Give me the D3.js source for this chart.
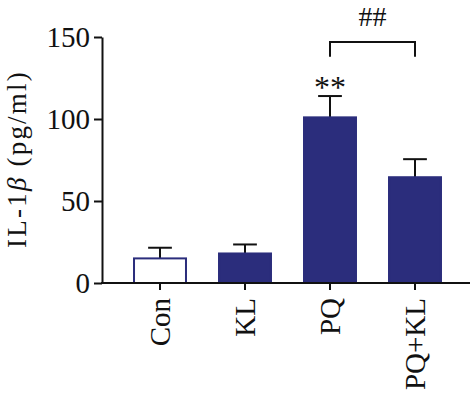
<!DOCTYPE html>
<html>
<head>
<meta charset="utf-8">
<script src="https://cdn.jsdelivr.net/npm/d3@7"></script>
<style>
  html, body { margin: 0; padding: 0; background: #fff; }
  svg { display: block; font-family: "Liberation Serif", "DejaVu Serif", serif; }
</style>
</head>
<body>
<div id="chart"></div>
<script>
// values
const categories = ["Con", "KL", "PQ", "PQ+KL"];
const means = [15, 18, 101, 64.5];
const sems = [6.5, 5.5, 13, 11];
const yTicks = [0, 50, 100, 150];
const fills = ["#ffffff", "#2b2d7c", "#2b2d7c", "#2b2d7c"];

const width = 474, height = 395;
const navy = "#2b2d7c";

const svg = d3.select("#chart")
    .append("svg")
    .attr("width", width)
    .attr("height", height);

const y = d3.scaleLinear()
    .domain([0, 150])
    .range([283, 37]);

const x = d3.scaleBand()
    .domain(categories)
    .range([117.5, 457.5])
    .paddingInner(0.365)
    .paddingOuter(0.1825);

const rows = categories.map((c, i) => ({ cat: c, mean: means[i], sem: sems[i], fill: fills[i] }));

// error bars (drawn first so the bar covers the lower half)
const err = svg.append("g")
    .attr("stroke", "#111")
    .attr("stroke-width", 2);

rows.forEach(d => {
    const cx = x(d.cat) + x.bandwidth() / 2;
    err.append("line")
        .attr("x1", cx).attr("x2", cx)
        .attr("y1", y(d.mean)).attr("y2", y(d.mean + d.sem));
    err.append("line")
        .attr("x1", cx - x.bandwidth() * 0.22).attr("x2", cx + x.bandwidth() * 0.22)
        .attr("y1", y(d.mean + d.sem)).attr("y2", y(d.mean + d.sem));
});

svg.append("g")
    .selectAll("rect")
    .data(rows)
    .join("rect")
    .attr("x", d => x(d.cat) + 1)
    .attr("width", x.bandwidth() - 2)
    .attr("y", d => y(d.mean))
    .attr("height", d => y(0) - y(d.mean))
    .attr("fill", d => d.fill)
    .attr("stroke", navy)
    .attr("stroke-width", 2);

// y axis
const yAxis = svg.append("g")
    .attr("transform", "translate(102,0)")
    .call(d3.axisLeft(y).tickValues(yTicks).tickSize(8).tickSizeOuter(0).tickPadding(4));
yAxis.select(".domain").attr("stroke-width", 2).attr("stroke", "#111");
yAxis.selectAll(".tick line").attr("stroke-width", 2).attr("stroke", "#111");
yAxis.selectAll(".tick text")
    .attr("font-size", 29)
    .attr("font-family", "Liberation Serif")
    .attr("fill", "#111");

// x axis
const xAxis = svg.append("g")
    .attr("transform", `translate(0,${y(0)})`)
    .call(d3.axisBottom(x).tickSize(7).tickSizeOuter(0).tickPadding(8));
xAxis.select(".domain").remove();
xAxis.append("line")
    .attr("x1", 101).attr("x2", 470)
    .attr("stroke", "#111").attr("stroke-width", 2);
xAxis.selectAll(".tick line").attr("stroke-width", 2).attr("stroke", "#111");
xAxis.selectAll(".tick text")
    .attr("font-size", 29)
    .attr("font-family", "Liberation Serif")
    .attr("fill", "#111")
    .attr("text-anchor", "end")
    .attr("dy", "0.35em")
    .attr("transform", "rotate(-90)")
    .attr("x", -15)
    .attr("y", 0);

// y label
svg.append("text")
    .attr("transform", "translate(26,159) rotate(-90)")
    .attr("text-anchor", "middle")
    .attr("font-size", 27)
    .attr("letter-spacing", 2.2)
    .attr("fill", "#111")
    .html('IL-1<tspan font-style="italic">β</tspan> (pg/ml)');

// significance marks
const pqX = x("PQ") + x.bandwidth() / 2;
const pqklX = x("PQ+KL") + x.bandwidth() / 2;

svg.append("text")
    .attr("x", pqX)
    .attr("y", y(113))
    .attr("text-anchor", "middle")
    .attr("font-size", 32)
    .attr("fill", "#111")
    .text("**");

svg.append("path")
    .attr("d", `M${pqX},${y(138)}V${y(147)}H${pqklX}V${y(138)}`)
    .attr("fill", "none")
    .attr("stroke", "#111")
    .attr("stroke-width", 2);

svg.append("text")
    .attr("x", (pqX + pqklX) / 2)
    .attr("y", 26)
    .attr("text-anchor", "middle")
    .attr("font-size", 28)
    .attr("fill", "#111")
    .text("##");
</script>
</body>
</html>
